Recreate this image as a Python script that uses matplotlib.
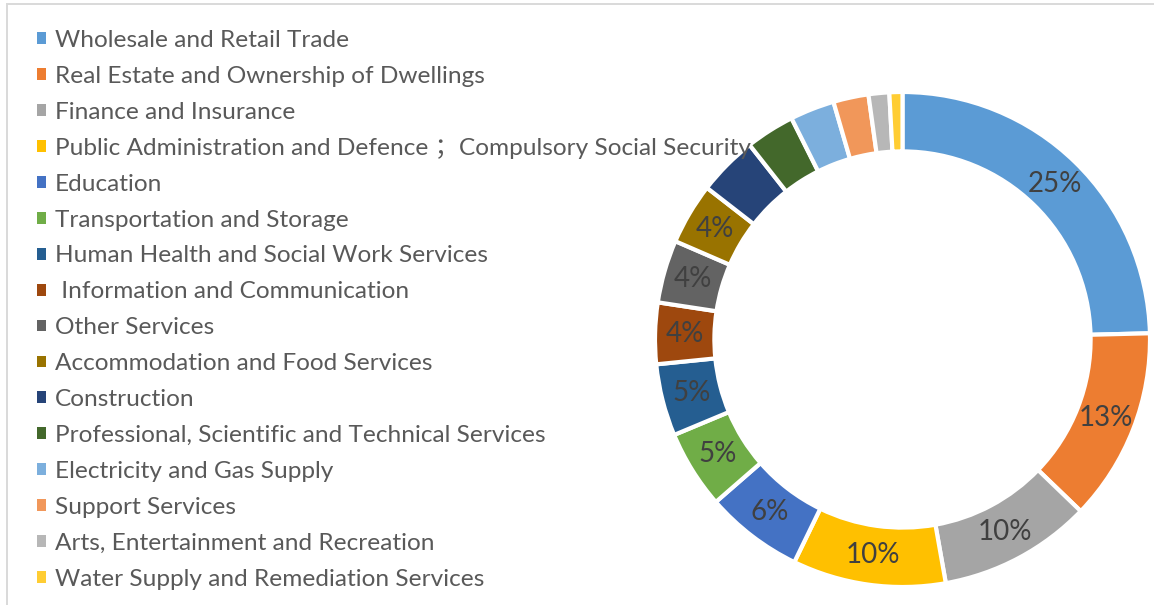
import matplotlib
matplotlib.use("Agg")
import matplotlib.pyplot as plt
from matplotlib.patches import Patch, Rectangle

categories = [
    "Wholesale and Retail Trade",
    "Real Estate and Ownership of Dwellings",
    "Finance and Insurance",
    "Public Administration and Defence \uff1bCompulsory Social Security",
    "Education",
    "Transportation and Storage",
    "Human Health and Social Work Services",
    " Information and Communication",
    "Other Services",
    "Accommodation and Food Services",
    "Construction",
    "Professional, Scientific and Technical Services",
    "Electricity and Gas Supply",
    "Support Services",
    "Arts, Entertainment and Recreation",
    "Water Supply and Remediation Services",
]
shares = [24.6, 12.6, 10.0, 10.0, 6.4, 5.1, 4.7, 4.0, 4.1, 4.0, 3.9, 3.2, 2.9, 2.3, 1.35, 0.85]
colors = ["#5B9BD5", "#ED7D31", "#A5A5A5", "#FFC000", "#4472C4", "#70AD47",
          "#255E91", "#9E480E", "#636363", "#997300", "#264478", "#43682B",
          "#7CAFDD", "#F1975A", "#B7B7B7", "#FFCD33"]

W, H = 1154, 605
fig = plt.figure(figsize=(W / 100, H / 100), dpi=100)
fig.patch.set_facecolor("white")

# border of chart area (partially visible)
fig.patches.append(Rectangle((7 / W, -0.1), 1.2, (H - 4) / H + 0.1,
                             transform=fig.transFigure, fill=False,
                             edgecolor="#D9D9D9", lw=1.4, zorder=0))

cx, cy, R = 902.5, 339.5, 247.5
ax = fig.add_axes([(cx - R) / W, (H - cy - R) / H, 2 * R / W, 2 * R / H])
wedges, texts, autotexts = ax.pie(
    shares, colors=colors, startangle=90, counterclock=False, radius=1.0,
    wedgeprops=dict(width=0.24, edgecolor="white", linewidth=3),
    autopct=lambda p: f"{p:.0f}%" if p >= 3.95 else "",
    pctdistance=0.88,
    textprops=dict(color="#404040", fontsize=20, family="Lato"),
)
ax.set_xlim(-1, 1)
ax.set_ylim(-1, 1)
ax.set_aspect("equal")
ax.axis("off")

handles = [Patch(facecolor=c, edgecolor="none") for c in colors]
leg = fig.legend(handles, categories, loc="upper left",
                 bbox_to_anchor=(37 / W, 1 - 30 / H),
                 frameon=False,
                 prop={"family": ["Lato", "Noto Sans CJK SC"], "size": 17.6},
                 handlelength=0.37, handleheight=0.37, handletextpad=0.37,
                 labelspacing=0.61, borderaxespad=0, borderpad=0)
for t in leg.get_texts():
    t.set_color("#595959")
leg.set_zorder(10)

fig.savefig("out.png", dpi=100, facecolor="white")
